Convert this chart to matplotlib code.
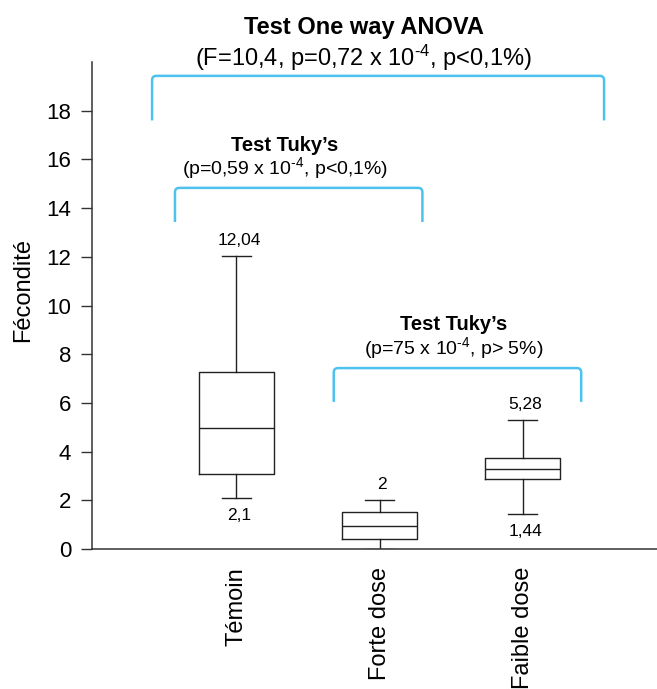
import matplotlib
matplotlib.use("Agg")
import matplotlib.pyplot as plt
from matplotlib.path import Path
from matplotlib.patches import PathPatch

plt.rcParams['font.family'] = ['Liberation Sans', 'DejaVu Sans']
plt.rcParams['mathtext.fontset'] = 'custom'
plt.rcParams['mathtext.rm'] = 'Liberation Sans'
plt.rcParams['mathtext.it'] = 'Liberation Sans:italic'
plt.rcParams['mathtext.bf'] = 'Liberation Sans:bold'

# groups and box statistics
groups = ['Témoin', 'Forte dose', 'Faible dose']
whis_hi = [12.04, 2.0, 5.28]
q3 = [7.27, 1.52, 3.73]
medians = [4.98, 0.95, 3.29]
q1 = [3.07, 0.41, 2.87]
whis_lo = [2.1, 0.0, 1.44]

# labels printed next to the whisker ends (None = no label)
hi_labels = ['12,04', '2', '5,28']
lo_labels = ['2,1', None, '1,44']

# significance brackets: x start, x end, top, bottom (data units)
br_x0 = [0.41, 0.57, 1.68]
br_x1 = [3.57, 2.30, 3.41]
br_top = [19.43, 14.83, 7.43]
br_bot = [17.60, 13.43, 6.04]

# bracket captions: centre x, title y, subtitle y
cap_x = [1.89, 1.34, 2.52]
cap_title_y = [21.42, 16.59, 9.20]
cap_sub_y = [20.18, 15.65, 8.25]
cap_titles = ['Test One way ANOVA', 'Test Tuky\u2019s', 'Test Tuky\u2019s']
cap_subs = ['(F=10,4, p=0,72 x 10$^{\\text{-}4}$, p<0,1%)',
            '(p=0,59 x 10$^{\\text{-}4}$, p<0,1%)',
            '(p=75 x 10$^{\\text{-}4}$, p> 5%)']
cap_title_size = [17, 14.5, 14.5]
cap_sub_size = [17, 14, 14]

bracket_color = '#4EC2EE'
axis_color = '#333333'

fig = plt.figure(figsize=(6.57, 6.89), dpi=100)
ax = fig.add_axes([92 / 657, 140 / 689, 565 / 657, 487 / 689])

stats = []
for i, g in enumerate(groups):
    stats.append({'label': g, 'med': medians[i], 'q1': q1[i], 'q3': q3[i],
                  'whislo': whis_lo[i], 'whishi': whis_hi[i], 'fliers': []})

pos = [1, 2, 3]
line_kw = dict(color='#222222', linewidth=1.0)
ax.bxp(stats, positions=pos, widths=0.52, capwidths=0.2, showfliers=False,
       boxprops=line_kw, whiskerprops=line_kw, capprops=line_kw,
       medianprops=line_kw)

# whisker end values
val_font = dict(family=['Liberation Sans Narrow', 'Liberation Sans'], size=12.5)
for i in range(len(groups)):
    if hi_labels[i]:
        ax.annotate(hi_labels[i], (pos[i], whis_hi[i]), xytext=(2, 8),
                    textcoords='offset points', ha='center', va='baseline',
                    **val_font)
    if lo_labels[i]:
        ax.annotate(lo_labels[i], (pos[i], whis_lo[i]), xytext=(2, -13),
                    textcoords='offset points', ha='center', va='center',
                    **val_font)

# brackets with slightly rounded corners
rx, ry = 0.03, 0.18
for x0, x1, yt, yb in zip(br_x0, br_x1, br_top, br_bot):
    verts = [(x0, yb), (x0, yt - ry), (x0, yt), (x0 + rx, yt),
             (x1 - rx, yt), (x1, yt), (x1, yt - ry), (x1, yb)]
    codes = [Path.MOVETO, Path.LINETO, Path.CURVE3, Path.CURVE3,
             Path.LINETO, Path.CURVE3, Path.CURVE3, Path.LINETO]
    ax.add_patch(PathPatch(Path(verts, codes), fill=False,
                           edgecolor=bracket_color, linewidth=1.8,
                           clip_on=False))

for i in range(len(cap_x)):
    ax.text(cap_x[i], cap_title_y[i], cap_titles[i], ha='center', va='center',
            fontsize=cap_title_size[i], fontweight='bold', clip_on=False)
    ax.text(cap_x[i], cap_sub_y[i], cap_subs[i], ha='center', va='center',
            fontsize=cap_sub_size[i], clip_on=False)

ax.set_xlim(-0.01, 3.94)
ax.set_ylim(0, 20)
ax.set_yticks(range(0, 20, 2))
ax.set_xticks(pos)
ax.set_xticklabels(groups, rotation=90, fontsize=17)
ax.tick_params(axis='x', length=0, pad=13)
ax.tick_params(axis='y', labelsize=16, length=8, width=1.0, pad=7,
               color=axis_color)

for side in ['top', 'right']:
    ax.spines[side].set_visible(False)
for side in ['left', 'bottom']:
    ax.spines[side].set_color(axis_color)
    ax.spines[side].set_linewidth(1.1)

ax.set_ylabel('Fécondité', fontsize=17)
ax.yaxis.set_label_coords(-0.102, 0.532)

fig.savefig('out.png', dpi=100)
